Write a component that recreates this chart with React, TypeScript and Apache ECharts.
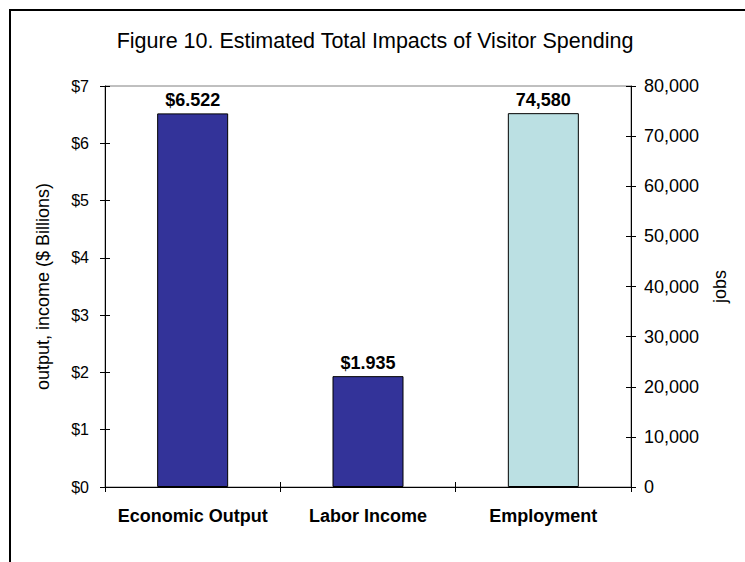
import React, { useEffect, useRef } from "react";
import * as echarts from "echarts";

const categories = ["Economic Output", "Labor Income", "Employment"];
const dollarValues = [6.522, 1.935, null];
const jobValues = [null, null, 74580];
const titleText = "Figure 10. Estimated Total Impacts of Visitor Spending";
const leftAxisName = "output, income ($ Billions)";
const rightAxisName = "jobs";

const FONT = "'Liberation Sans', Arial, sans-serif";

export default function App() {
  const ref = useRef<HTMLDivElement>(null);
  useEffect(() => {
    if (!ref.current) return;
    const chart = echarts.init(ref.current, null, { renderer: "svg" });
    const baseY = {
      type: "value",
      splitLine: { show: false },
      axisLine: { show: true, lineStyle: { color: "#000", width: 1 } },
      axisTick: { show: true, length: 5, lineStyle: { color: "#000" } },
    };
    chart.setOption({
      animation: false,
      backgroundColor: "#fff",
      textStyle: { fontFamily: FONT },
      title: {
        text: titleText,
        left: 370,
        textAlign: "center",
        top: 25,
        textStyle: { fontFamily: FONT, fontSize: 21.5, fontWeight: "normal", color: "#000" },
      },
      graphic: [
        {
          type: "rect",
          shape: { x: 10, y: 10, width: 800, height: 700 },
          style: { fill: "none", stroke: "#000", lineWidth: 2 },
          silent: true,
        },
      ],
      grid: {
        left: 105,
        right: 114,
        top: 86,
        bottom: 75,
        show: true,
        borderColor: "#808080",
        borderWidth: 1,
        backgroundColor: "transparent",
      },
      xAxis: [
        {
          type: "category",
          data: categories,
          position: "bottom",
          axisLine: { show: true, lineStyle: { color: "#000" } },
          axisTick: { show: true, length: 5, lineStyle: { color: "#000" } },
          axisLabel: {
            interval: 0,
            hideOverlap: false,
            fontFamily: FONT,
            fontSize: 18,
            fontWeight: "bold",
            color: "#000",
            margin: 20,
          },
        },
        {
          type: "category",
          data: categories,
          position: "bottom",
          axisLine: { show: false },
          axisTick: { show: true, inside: true, length: 5, lineStyle: { color: "#000" } },
          axisLabel: { show: false },
        },
      ],
      yAxis: [
        {
          ...baseY,
          position: "left",
          min: 0,
          max: 7,
          interval: 1,
          name: leftAxisName,
          nameLocation: "middle",
          nameRotate: 90,
          nameGap: 53,
          nameTextStyle: { fontFamily: FONT, fontSize: 18, color: "#000" },
          axisLabel: {
            fontFamily: FONT,
            fontSize: 16,
            color: "#000",
            margin: 16,
            formatter: (v: number) => "$" + v,
          },
        },
        {
          ...baseY,
          position: "right",
          min: 0,
          max: 80000,
          interval: 10000,
          name: rightAxisName,
          nameLocation: "middle",
          nameRotate: 90,
          nameGap: 80,
          nameTextStyle: { fontFamily: FONT, fontSize: 18, color: "#000" },
          axisLabel: {
            fontFamily: FONT,
            fontSize: 18,
            color: "#000",
            margin: 13,
            formatter: (v: number) => v.toLocaleString("en-US"),
          },
        },
        {
          ...baseY,
          position: "left",
          min: 0,
          max: 7,
          interval: 1,
          axisLine: { show: false },
          axisTick: { show: true, inside: true, length: 5, lineStyle: { color: "#000" } },
          axisLabel: { show: false },
        },
        {
          ...baseY,
          position: "right",
          min: 0,
          max: 80000,
          interval: 10000,
          axisLine: { show: false },
          axisTick: { show: true, inside: true, length: 5, lineStyle: { color: "#000" } },
          axisLabel: { show: false },
        },
      ],
      series: [
        {
          type: "bar",
          xAxisIndex: 0,
          yAxisIndex: 0,
          data: dollarValues,
          barWidth: 71,
          barGap: "-100%",
          itemStyle: { color: "#333399", borderColor: "#000", borderWidth: 1 },
          label: {
            show: true,
            position: "top",
            distance: 4,
            fontFamily: FONT,
            fontSize: 18,
            fontWeight: "bold",
            color: "#000",
            formatter: (p: any) => "$" + Number(p.value).toFixed(3),
          },
        },
        {
          type: "bar",
          xAxisIndex: 0,
          yAxisIndex: 1,
          data: jobValues,
          barWidth: 71,
          barGap: "-100%",
          itemStyle: { color: "#BBE0E3", borderColor: "#000", borderWidth: 1 },
          label: {
            show: true,
            position: "top",
            distance: 4,
            fontFamily: FONT,
            fontSize: 18,
            fontWeight: "bold",
            color: "#000",
            formatter: (p: any) => Number(p.value).toLocaleString("en-US"),
          },
        },
      ],
    });
    return () => chart.dispose();
  }, []);
  return (
    <div
      ref={ref}
      style={{ position: "fixed", left: 0, top: 0, width: 745, height: 562 }}
    />
  );
}
